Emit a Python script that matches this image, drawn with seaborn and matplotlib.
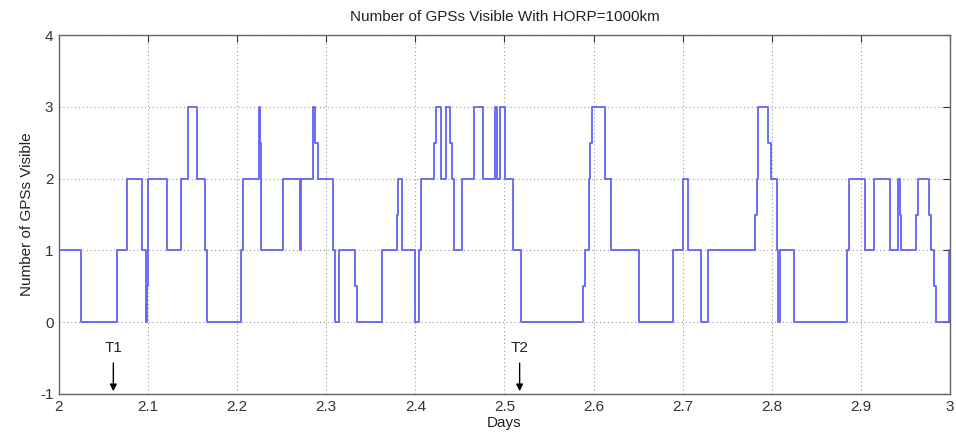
import matplotlib
matplotlib.use("Agg")
import matplotlib.pyplot as plt
import seaborn as sns
import pandas as pd

days = [2.0000, 2.0005, 2.0247, 2.0648, 2.0767, 2.0935, 2.0980, 2.0992, 2.1000,
        2.1209, 2.1366, 2.1451, 2.1545, 2.1639, 2.1665, 2.2039, 2.2062, 2.2245,
        2.2255, 2.2264, 2.2517, 2.2700, 2.2716, 2.2846, 2.2873, 2.2910, 2.3079,
        2.3098, 2.3146, 2.3322, 2.3341, 2.3629, 2.3790, 2.3808, 2.3846, 2.3996,
        2.4044, 2.4060, 2.4212, 2.4231, 2.4283, 2.4343, 2.4388, 2.4407, 2.4436,
        2.4526, 2.4661, 2.4755, 2.4893, 2.4918, 2.4949, 2.5006, 2.5092, 2.5185,
        2.5877, 2.5903, 2.5951, 2.5965, 2.5985, 2.6128, 2.6192, 2.6513, 2.6894,
        2.7006, 2.7063, 2.7202, 2.7280, 2.7811, 2.7830, 2.7849, 2.7960, 2.7987,
        2.8054, 2.8065, 2.8092, 2.8253, 2.8840, 2.8866, 2.9046, 2.9147, 2.9327,
        2.9420, 2.9435, 2.9447, 2.9615, 2.9644, 2.9768, 2.9787, 2.9820, 2.9839,
        2.9989, 3.0000]
visible = [0, 1, 0, 1, 2, 1, 0, 0.5, 2,
           1, 2, 3, 2, 1, 0, 1, 2, 3,
           2.5, 1, 2, 1, 2, 3, 2.5, 2, 1,
           0, 1, 0.5, 0, 1, 1.5, 2, 1, 0,
           1, 2, 2.5, 3, 2, 3, 2.5, 2, 1,
           2, 3, 2, 3, 2, 3, 2, 1, 0,
           0.5, 1, 2, 2.5, 3, 2, 1, 0, 1,
           2, 1, 0, 1, 1.5, 2, 3, 2.5, 2,
           1, 0, 1, 0, 1, 2, 1, 2, 1,
           2, 1.5, 1, 1.5, 2, 1.5, 1, 0.5, 0,
           1, 1]

x_ticks = [2, 2.1, 2.2, 2.3, 2.4, 2.5, 2.6, 2.7, 2.8, 2.9, 3]
x_ticklabels = ["2", "2.1", "2.2", "2.3", "2.4", "2.5", "2.6", "2.7", "2.8", "2.9", "3"]
y_ticks = [-1, 0, 1, 2, 3, 4]
markers_t = [2.061, 2.517]
markers_lbl = ["T1", "T2"]

sns.set_style("white")
plt.rcParams['font.family'] = ['Liberation Sans', 'DejaVu Sans']
plt.rcParams['axes.unicode_minus'] = False

df = pd.DataFrame({"Days": days, "Visible": visible})

fig = plt.figure(figsize=(9.56, 4.41), dpi=100)
ax = fig.add_axes([0.0617, 0.1066, 0.9320, 0.8140])

sns.lineplot(data=df, x="Days", y="Visible", ax=ax, estimator=None, sort=False,
             drawstyle="steps-post", color="#6262f5", linewidth=1.3)

ax.set_xlim(2, 3)
ax.set_ylim(-1, 4)
ax.set_xticks(x_ticks)
ax.set_xticklabels(x_ticklabels)
ax.set_yticks(y_ticks)
ax.tick_params(direction="in", top=True, right=True, length=5, labelsize=11,
               colors="#333333", pad=4)
ax.grid(True, linestyle=(0, (1, 2.5)), color="#999999", linewidth=0.8)
for s in ax.spines.values():
    s.set_color("#666666")
    s.set_linewidth(1.0)

ax.set_title("Number of GPSs Visible With HORP=1000km", fontsize=11, color="#222222", pad=10)
ax.set_xlabel("Days", fontsize=11, color="#222222", labelpad=2)
ax.set_ylabel("Number of GPSs Visible", fontsize=11, color="#222222", labelpad=4)

for t, lbl in zip(markers_t, markers_lbl):
    ax.annotate("", xy=(t, -1), xytext=(t, -0.53),
                arrowprops=dict(arrowstyle="-|>", color="black", lw=1.0, mutation_scale=10))
    ax.text(t, -0.45, lbl, ha="center", va="bottom", fontsize=11, color="#222222")

fig.savefig("out.png", dpi=100)
